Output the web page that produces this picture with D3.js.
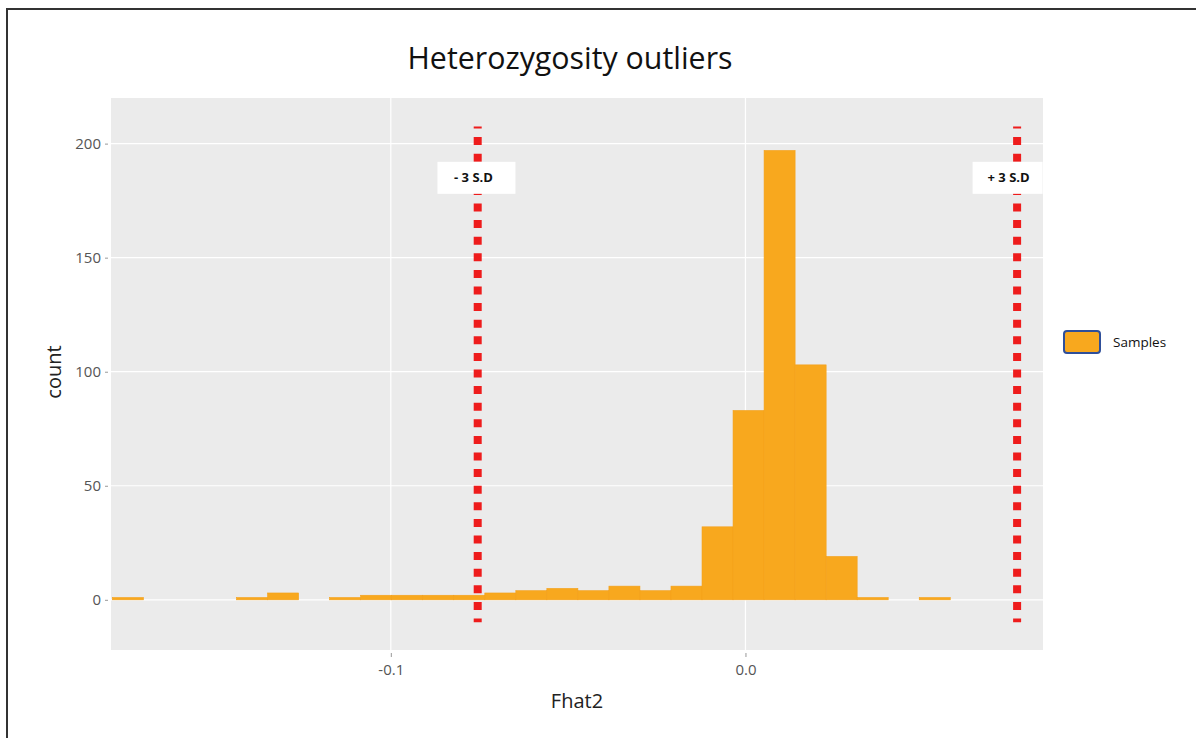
<!DOCTYPE html>
<html>
<head>
<meta charset="utf-8">
<script src="https://cdn.jsdelivr.net/npm/d3@7"></script>
<style>
  body { margin: 0; background: #fff; }
  svg { display: block; }
</style>
</head>
<body>
<div id="container"></div>
<script>
var width = 1196;
var height = 738;

// histogram bins (start of each bin, Fhat2) and counts
var binWidth = 0.00875;
var binStarts = [-0.1785, -0.16975, -0.161, -0.15225, -0.1435, -0.13475, -0.126, -0.11725, -0.1085,
                 -0.09975, -0.091, -0.08225, -0.0735, -0.06475, -0.056, -0.04725, -0.0385, -0.02975,
                 -0.021, -0.01225, -0.0035, 0.00525, 0.014, 0.02275, 0.0315, 0.04025, 0.049];
var counts = [1, 0, 0, 0, 1, 3, 0, 1, 2, 2, 2, 2, 3, 4, 5, 4, 6, 4, 6, 32, 83, 197, 103, 19, 1, 0, 1];

var xTicks = [-0.1, 0.0];
var yTicks = [0, 50, 100, 150, 200];

// +/- 3 S.D lines
var sdLines = [-0.0755, 0.0766];
var sdLabels = ["- 3 S.D", "+ 3 S.D"];
var sdLabelX = [-0.0767, 0.0742];

const plot = {left: 111, right: 1043, top: 98, bottom: 650};

const SVG = d3.select("#container")
              .append("svg")
              .attr("width", width)
              .attr("height", height)
              .style("font-family", "'Open Sans', sans-serif");

// frame
SVG.append("path")
   .attr("d", `M7,${height} L7,9 L${width},9`)
   .attr("fill", "none")
   .attr("stroke", "#333")
   .attr("stroke-width", 2);

const x = d3.scaleLinear().domain([-0.1789, 0.0839]).range([plot.left, plot.right]);
const y = d3.scaleLinear().domain([-22, 220]).range([plot.bottom, plot.top]);

SVG.append("rect")
   .attr("x", plot.left)
   .attr("y", plot.top)
   .attr("width", plot.right - plot.left)
   .attr("height", plot.bottom - plot.top)
   .attr("fill", "#ebebeb");

// grid
SVG.selectAll(".ygrid")
   .data(yTicks)
   .enter()
   .append("line")
   .attr("x1", plot.left).attr("x2", plot.right)
   .attr("y1", d => y(d)).attr("y2", d => y(d))
   .attr("stroke", "#fff")
   .attr("stroke-width", 1.2);

SVG.selectAll(".xgrid")
   .data(xTicks)
   .enter()
   .append("line")
   .attr("y1", plot.top).attr("y2", plot.bottom)
   .attr("x1", d => x(d)).attr("x2", d => x(d))
   .attr("stroke", "#fff")
   .attr("stroke-width", 1.2);

// bars
const bins = binStarts.map((s, i) => ({x0: s, x1: s + binWidth, n: counts[i]}));
SVG.selectAll(".bar")
   .data(bins.filter(d => d.n > 0))
   .enter()
   .append("rect")
   .attr("class", "bar")
   .attr("x", d => x(d.x0))
   .attr("width", d => x(d.x1) - x(d.x0))
   .attr("y", d => y(d.n))
   .attr("height", d => y(0) - y(d.n))
   .attr("fill", "#f8a81e")
   .attr("stroke", "#f4a01a")
   .attr("stroke-width", 0.6);

// sd lines, drawn top to bottom so the top dash is cut like the original
SVG.selectAll(".sd")
   .data(sdLines)
   .enter()
   .append("line")
   .attr("x1", d => x(d)).attr("x2", d => x(d))
   .attr("y1", y(207.5)).attr("y2", y(-9.8))
   .attr("stroke", "#ee1c1c")
   .attr("stroke-width", 8)
   .attr("stroke-dasharray", "8,8.6")
   .attr("stroke-dashoffset", 6);

const ann = SVG.selectAll(".ann")
   .data(sdLabels)
   .enter()
   .append("g")
   .attr("transform", (d, i) => `translate(${x(sdLabelX[i])},${y(185)})`);

ann.append("rect")
   .attr("x", (d, i) => i == 0 ? -36 : -36)
   .attr("y", -16)
   .attr("width", (d, i) => i == 0 ? 78 : 70)
   .attr("height", 32)
   .attr("fill", "#fff");

ann.append("text")
   .attr("text-anchor", "middle")
   .attr("dy", "0.35em")
   .attr("font-size", 13)
   .attr("font-weight", "bold")
   .attr("fill", "#111")
   .text(d => d);

// axes
const yAxis = SVG.append("g")
   .attr("transform", `translate(${plot.left - 3},0)`)
   .call(d3.axisLeft(y).tickValues(yTicks).tickSize(3).tickPadding(4).tickFormat(d3.format("d")));
const xAxis = SVG.append("g")
   .attr("transform", `translate(0,${plot.bottom + 3})`)
   .call(d3.axisBottom(x).tickValues(xTicks).tickSize(4).tickPadding(7).tickFormat(d => d.toFixed(1)));

[yAxis, xAxis].forEach(a => {
  a.select(".domain").remove();
  a.selectAll(".tick line").attr("stroke", "#999");
  a.selectAll(".tick text")
   .attr("fill", "#555")
   .attr("font-size", 15)
   .style("font-family", "'Open Sans', sans-serif");
});

// titles
SVG.append("text")
   .attr("x", 570)
   .attr("y", 69)
   .attr("text-anchor", "middle")
   .attr("font-size", 31)
   .attr("textLength", 325)
   .attr("lengthAdjust", "spacingAndGlyphs")
   .attr("fill", "#111")
   .text("Heterozygosity outliers");

SVG.append("text")
   .attr("x", 577)
   .attr("y", 708)
   .attr("text-anchor", "middle")
   .attr("font-size", 20)
   .attr("fill", "#222")
   .text("Fhat2");

SVG.append("text")
   .attr("transform", "translate(61,372) rotate(-90)")
   .attr("text-anchor", "middle")
   .attr("font-size", 20)
   .attr("fill", "#222")
   .text("count");

// legend
const LEGEND = SVG.append("g").attr("transform", "translate(1064,331)");
LEGEND.append("rect")
   .attr("width", 36)
   .attr("height", 22)
   .attr("rx", 3)
   .attr("fill", "#f8a81e")
   .attr("stroke", "#2f4f9a")
   .attr("stroke-width", 2);
LEGEND.append("text")
   .attr("x", 49)
   .attr("y", 11)
   .attr("dy", "0.35em")
   .attr("font-size", 13.5)
   .attr("fill", "#111")
   .text("Samples");
</script>
</body>
</html>
